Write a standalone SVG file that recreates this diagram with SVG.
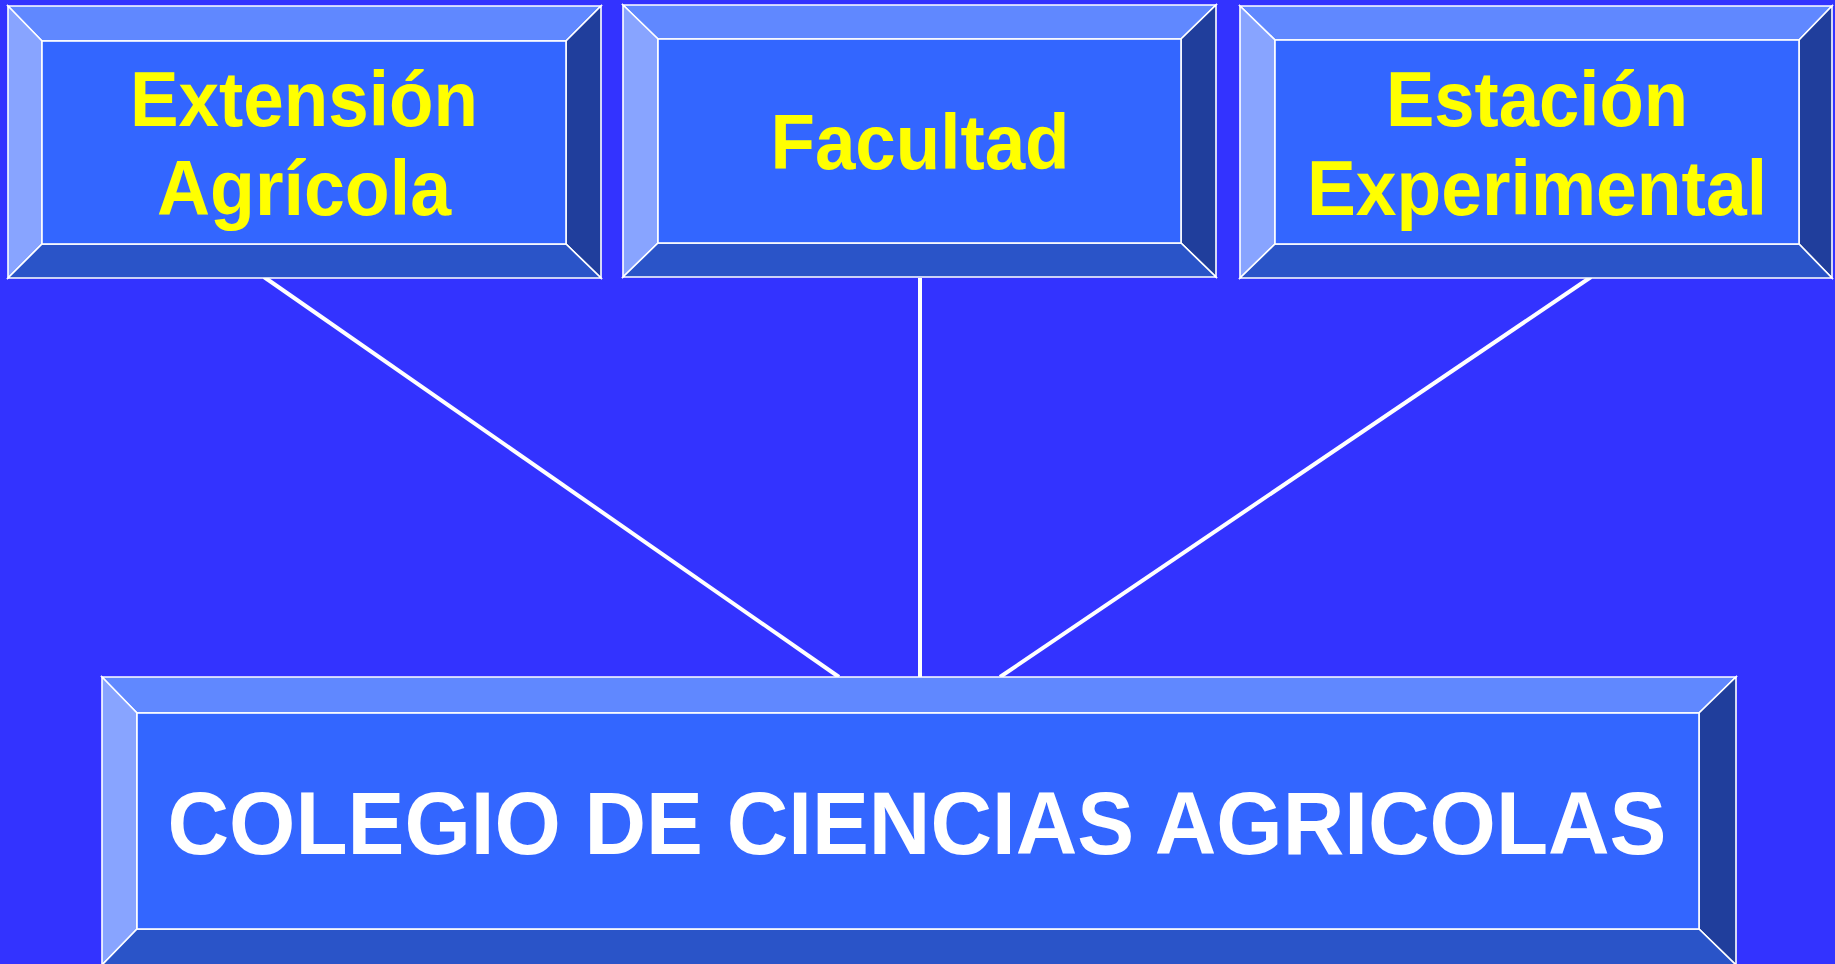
<svg xmlns="http://www.w3.org/2000/svg" width="1835" height="964" viewBox="0 0 1835 964">
<style>
.bv{stroke:#ffffff;stroke-width:1.6;stroke-linejoin:miter}
.t{fill:#6088ff}.l{fill:#88a4ff}.r{fill:#203e9c}.b{fill:#2a54c8}.f{fill:#3366ff}
.lbl{font-family:"Liberation Sans",Arial,sans-serif;font-weight:bold;fill:#ffff00;font-size:77px;text-anchor:middle}
.main{font-family:"Liberation Sans",Arial,sans-serif;font-weight:bold;fill:#ffffff;font-size:89px;text-anchor:middle}
.con{stroke:#ffffff;stroke-width:4;fill:none}
</style>
<rect width="1835" height="964" fill="#3333ff"/>
<g id="connectors">
<line class="con" x1="264" y1="277" x2="839" y2="677"/>
<line class="con" x1="920" y1="278" x2="920" y2="677"/>
<line class="con" x1="1591" y1="277" x2="1000" y2="677"/>
</g>
<g id="node-extension">
<polygon class="bv t" points="8,6 601,6 566,41 42,41"/>
<polygon class="bv l" points="8,6 42,41 42,244 8,278"/>
<polygon class="bv r" points="601,6 601,278 566,244 566,41"/>
<polygon class="bv b" points="8,278 42,244 566,244 601,278"/>
<rect class="bv f" x="42" y="41" width="524" height="203"/>
<text class="lbl" x="304" y="126" textLength="348" lengthAdjust="spacingAndGlyphs">Extensión</text>
<text class="lbl" x="304" y="215" textLength="294" lengthAdjust="spacingAndGlyphs">Agrícola</text>
</g>
<g id="node-facultad">
<polygon class="bv t" points="623,5 1216,5 1181,39 658,39"/>
<polygon class="bv l" points="623,5 658,39 658,243 623,277"/>
<polygon class="bv r" points="1216,5 1216,277 1181,243 1181,39"/>
<polygon class="bv b" points="623,277 658,243 1181,243 1216,277"/>
<rect class="bv f" x="658" y="39" width="523" height="204"/>
<text class="lbl" x="920" y="169" textLength="299" lengthAdjust="spacingAndGlyphs">Facultad</text>
</g>
<g id="node-estacion">
<polygon class="bv t" points="1240,6 1832,6 1799,40 1275,40"/>
<polygon class="bv l" points="1240,6 1275,40 1275,244 1240,278"/>
<polygon class="bv r" points="1832,6 1832,278 1799,244 1799,40"/>
<polygon class="bv b" points="1240,278 1275,244 1799,244 1832,278"/>
<rect class="bv f" x="1275" y="40" width="524" height="204"/>
<text class="lbl" x="1537" y="126" textLength="302" lengthAdjust="spacingAndGlyphs">Estación</text>
<text class="lbl" x="1537" y="215" textLength="460" lengthAdjust="spacingAndGlyphs">Experimental</text>
</g>
<g id="node-colegio">
<polygon class="bv t" points="102,677 1736,677 1699,713 137,713"/>
<polygon class="bv l" points="102,677 137,713 137,929 102,965"/>
<polygon class="bv r" points="1736,677 1736,965 1699,929 1699,713"/>
<polygon class="bv b" points="102,965 137,929 1699,929 1736,965"/>
<rect class="bv f" x="137" y="713" width="1562" height="216"/>
<text class="main" x="917" y="854" textLength="1499" lengthAdjust="spacingAndGlyphs">COLEGIO DE CIENCIAS AGRICOLAS</text>
</g>
</svg>
